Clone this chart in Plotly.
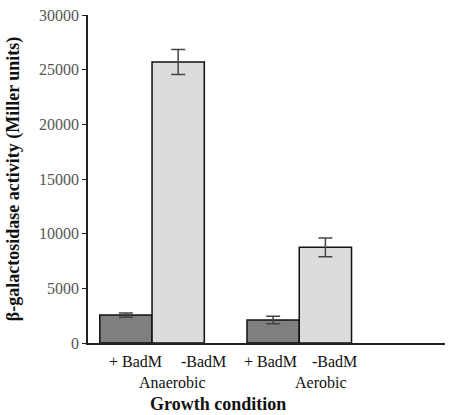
import plotly.graph_objects as go

conditions = ["Anaerobic", "Aerobic"]
plus_badm = [2550, 2100]
plus_err = [200, 350]
minus_badm = [25700, 8750]
minus_err = [1150, 850]
sub_labels = ["+ BadM", "-BadM"]
y_ticks = [0, 5000, 10000, 15000, 20000, 25000, 30000]
y_tick_text = ["0", "5000", "10000", "15000", "20000", "25000", "30000"]

font_family = "Times New Roman, Liberation Serif, serif"

fig = go.Figure()
fig.add_trace(go.Bar(
    x=conditions, y=plus_badm, name=sub_labels[0],
    marker=dict(color="#7f7f7f", line=dict(color="#111111", width=1.5)),
    error_y=dict(type="data", array=plus_err, color="#444444", thickness=1.5, width=7),
))
fig.add_trace(go.Bar(
    x=conditions, y=minus_badm, name=sub_labels[1],
    marker=dict(color="#dcdcdc", line=dict(color="#111111", width=1.5)),
    error_y=dict(type="data", array=minus_err, color="#444444", thickness=1.5, width=7),
))

plus_shift = [-17, -29]
minus_shift = [51, 35]
group_shift = [20, 22]
label_font = dict(family=font_family, size=16, color="#111111")
annotations = []
for i, cond in enumerate(conditions):
    annotations.append(dict(x=i, y=0, xref="x", yref="paper", text=sub_labels[0],
                            xshift=plus_shift[i], yshift=-18, yanchor="middle",
                            showarrow=False, font=label_font))
    annotations.append(dict(x=i, y=0, xref="x", yref="paper", text=sub_labels[1],
                            xshift=minus_shift[i], yshift=-18, yanchor="middle",
                            showarrow=False, font=label_font))
    annotations.append(dict(x=i, y=0, xref="x", yref="paper", text=cond,
                            xshift=group_shift[i], yshift=-39, yanchor="middle",
                            showarrow=False, font=label_font))
annotations.append(dict(x=0.365, y=0, xref="paper", yref="paper",
                        text="<b>Growth condition</b>", yshift=-61, yanchor="middle",
                        showarrow=False,
                        font=dict(family=font_family, size=18, color="#111111")))

fig.update_layout(
    width=449, height=415,
    margin=dict(l=88, r=4, t=15, b=72),
    paper_bgcolor="white", plot_bgcolor="white",
    showlegend=False,
    barmode="group", bargap=0.29, bargroupgap=0,
    font=dict(family=font_family, size=16, color="#333333"),
    annotations=annotations,
    xaxis=dict(range=[-0.435, 1.99], showticklabels=False, ticks="",
               showline=True, linecolor="#222222", linewidth=1.5,
               showgrid=False, zeroline=False, automargin=False),
    yaxis=dict(range=[0, 30000], tickvals=y_ticks, ticktext=y_tick_text,
               ticks="outside", ticklen=4,
               tickcolor="#222222", showline=True, linecolor="#222222", linewidth=1.5,
               showgrid=False, zeroline=False, automargin=False,
               tickfont=dict(family=font_family, size=16, color="#555555"),
               title=dict(text="<b>β-galactosidase activity (Miller units)</b>",
                          font=dict(family=font_family, size=18, color="#111111"),
                          standoff=15)),
)

fig.write_html("out.html", config={"displayModeBar": False},
               post_script="document.body.style.margin='0';document.body.style.overflow='hidden';")
